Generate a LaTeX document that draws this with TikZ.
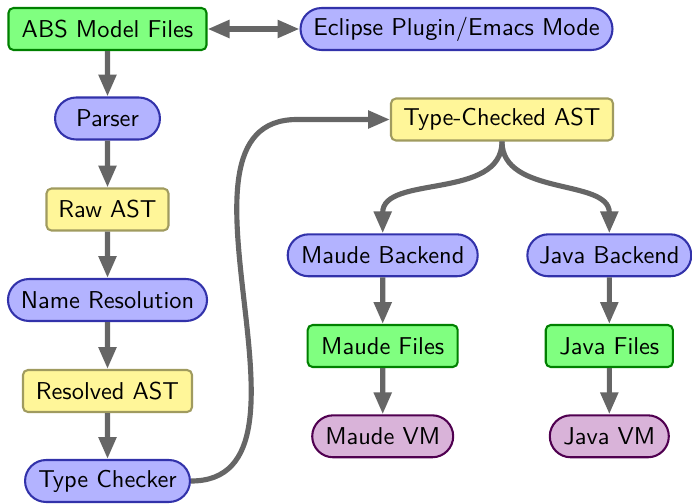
\documentclass[tikz,border=0pt]{standalone}
\usetikzlibrary{shapes.misc,arrows.meta}
\definecolor{gfill}{RGB}{128,255,128}
\definecolor{gline}{RGB}{0,128,0}
\definecolor{bfill}{RGB}{179,179,255}
\definecolor{bline}{RGB}{50,50,170}
\definecolor{yfill}{RGB}{255,246,153}
\definecolor{yline}{RGB}{160,155,95}
\definecolor{vfill}{RGB}{217,179,217}
\definecolor{vline}{RGB}{80,0,80}
\definecolor{arrgray}{RGB}{102,102,102}
\begin{document}
\begin{tikzpicture}[x=0.41pt,y=-0.41pt,font=\sffamily,
  base/.style={draw,line width=0.85pt,inner sep=0pt,minimum height=17.2pt},
  filebox/.style={base,rectangle,rounded corners=2pt,fill=gfill,draw=gline},
  procbox/.style={base,rounded rectangle,fill=bfill,draw=bline},
  astbox/.style={base,rectangle,rounded corners=2pt,fill=yfill,draw=yline},
  vmbox/.style={base,rounded rectangle,fill=vfill,draw=vline},
  arr/.style={draw=arrgray,line width=2.1pt,-{Triangle[length=9pt,width=7pt]}},
  dblarr/.style={draw=arrgray,line width=2.1pt,{Triangle[length=9pt,width=7pt]}-{Triangle[length=9pt,width=7pt]}}]
\path[use as bounding box] (0,0) rectangle (692,503);
% left column
\node[filebox,minimum width=81.2pt] (abs) at (107.5,29) {ABS Model Files};
\node[procbox,minimum width=127.9pt] (ecl) at (456.5,29) {Eclipse Plugin/Emacs Mode};
\node[procbox,minimum width=43pt] (parser) at (107.5,118.5) {Parser};
\node[astbox,minimum width=50pt] (raw) at (107.5,209.5) {Raw AST};
\node[procbox,minimum width=81.6pt] (name) at (107.5,300) {Name Resolution};
\node[astbox,minimum width=69.3pt] (res) at (107.5,391) {Resolved AST};
\node[procbox,minimum width=67.6pt] (tc) at (107.5,481) {Type Checker};
% right part
\node[astbox,minimum width=91pt] (tca) at (502,119.5) {Type-Checked AST};
\node[procbox,minimum width=77.9pt] (mb) at (382.7,255.3) {Maude Backend};
\node[procbox,minimum width=67.2pt] (jb) at (609.3,255.3) {Java Backend};
\node[filebox,minimum width=61.5pt] (mf) at (382.7,346) {Maude Files};
\node[filebox,minimum width=52.1pt] (jf) at (609.3,346) {Java Files};
\node[vmbox,minimum width=57.8pt] (mvm) at (382.7,436.3) {Maude VM};
\node[vmbox,minimum width=48.8pt] (jvm) at (609.3,436.3) {Java VM};
\coordinate (bend) at (297,119.5);
% connectors
\draw[dblarr] (abs) -- (ecl);
\draw[arr] (abs) -- (parser);
\draw[arr] (parser) -- (raw);
\draw[arr] (raw) -- (name);
\draw[arr] (name) -- (res);
\draw[arr] (res) -- (tc);
\draw[arr] (tc.east) to[out=0,in=180] (bend) -- (tca.west);
\draw[arr] (tca.south) to[out=-90,in=90] (mb.north);
\draw[arr] (tca.south) to[out=-90,in=90] (jb.north);
\draw[arr] (mb) -- (mf);
\draw[arr] (mf) -- (mvm);
\draw[arr] (jb) -- (jf);
\draw[arr] (jf) -- (jvm);
\end{tikzpicture}
\end{document}
